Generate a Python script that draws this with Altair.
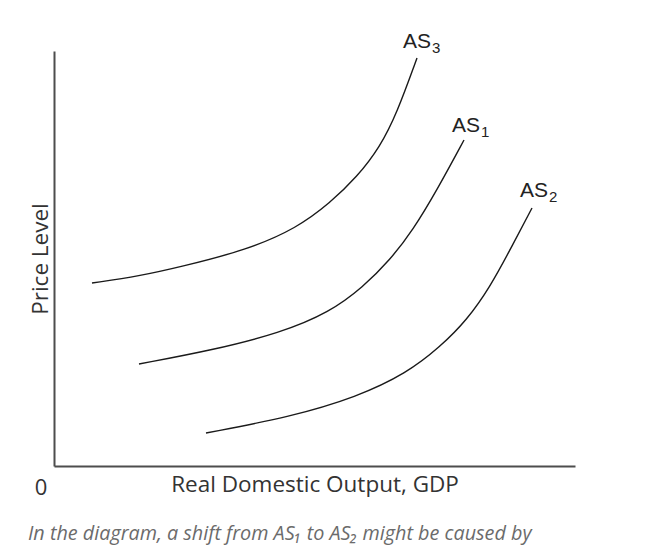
import altair as alt
import pandas as pd

# Curve values (x = real output, y = price level)
as3_x = [38, 86, 126, 193, 243, 276, 303, 326, 343, 363]
as3_y = [183, 190, 199, 216, 238, 263, 289, 319, 353, 408]
as1_x = [85, 159, 226, 276, 309, 336, 359, 383, 410]
as1_y = [102, 116, 133, 154, 179, 206, 236, 276, 326]
as2_x = [152, 236, 303, 353, 386, 413, 436, 456, 478]
as2_y = [33, 49, 69, 93, 119, 146, 179, 216, 258]

curve_names = ["AS3", "AS1", "AS2"]
label_main = ["AS", "AS", "AS"]
label_sub = ["3", "1", "2"]
label_x = [349, 398, 466]
label_y = [418, 334, 269]

x_title = "Real Domestic Output, GDP"
y_title = "Price Level"
origin_label = "0"
caption = "In the diagram, a shift from AS\u2081 to AS\u2082 might be caused by"

rows = []
for name, xs, ys in zip(curve_names, [as3_x, as1_x, as2_x], [as3_y, as1_y, as2_y]):
    for i, (xv, yv) in enumerate(zip(xs, ys)):
        rows.append({"curve": name, "x": xv, "y": yv, "order": i})
df = pd.DataFrame(rows)

lab = pd.DataFrame({"main": label_main, "sub": label_sub, "x": label_x, "y": label_y})

LFONT = "Liberation Sans"
TFONT = "Open Sans"
xs = alt.Scale(domain=[0, 521], nice=False, zero=False)
ys = alt.Scale(domain=[0, 415], nice=False, zero=False)

lines = alt.Chart(df).mark_line(
    interpolate="basis", color="#1a1a1a", strokeWidth=1.4, clip=False
).encode(
    x=alt.X("x:Q", scale=xs, axis=alt.Axis(
        title=x_title, labels=False, ticks=False, grid=False,
        domainColor="#4d4d4d", domainWidth=2,
        titleFont=TFONT, titleFontSize=22.5, titleFontWeight="normal",
        titleColor="#333333", titlePadding=7)),
    y=alt.Y("y:Q", scale=ys, axis=alt.Axis(
        title=y_title, labels=False, ticks=False, grid=False,
        domainColor="#4d4d4d", domainWidth=2,
        titleFont=TFONT, titleFontSize=22.5, titleFontWeight="normal",
        titleColor="#333333", titlePadding=2)),
    detail="curve:N",
    order="order:Q",
)

main_text = alt.Chart(lab).mark_text(
    font=LFONT, fontSize=21, color="#222222", align="left", baseline="alphabetic"
).encode(x=alt.X("x:Q", scale=xs), y=alt.Y("y:Q", scale=ys), text="main:N")

sub_text = alt.Chart(lab).mark_text(
    font=LFONT, fontSize=15, color="#222222", align="left", baseline="alphabetic",
    dx=29, dy=5
).encode(x=alt.X("x:Q", scale=xs), y=alt.Y("y:Q", scale=ys), text="sub:N")

zero = alt.Chart(pd.DataFrame({"t": [origin_label]})).mark_text(
    font=TFONT, fontSize=22, color="#333333", align="center", baseline="middle"
).encode(x=alt.value(-13), y=alt.value(437), text="t:N")

cap = alt.Chart(pd.DataFrame({"t": [caption]})).mark_text(
    font=TFONT, fontSize=19.8, fontStyle="italic", color="#6b6b6b",
    align="left", baseline="middle"
).encode(x=alt.value(-26), y=alt.value(483), text="t:N")

chart = alt.layer(lines, main_text, sub_text, zero, cap).properties(
    width=521, height=415,
    autosize=alt.AutoSizeParams(type="none"),
    padding={"left": 46, "top": 43, "right": 62, "bottom": 82},
).configure_view(stroke=None)

chart.save("out.html", embed_options={"renderer": "svg", "actions": False})
